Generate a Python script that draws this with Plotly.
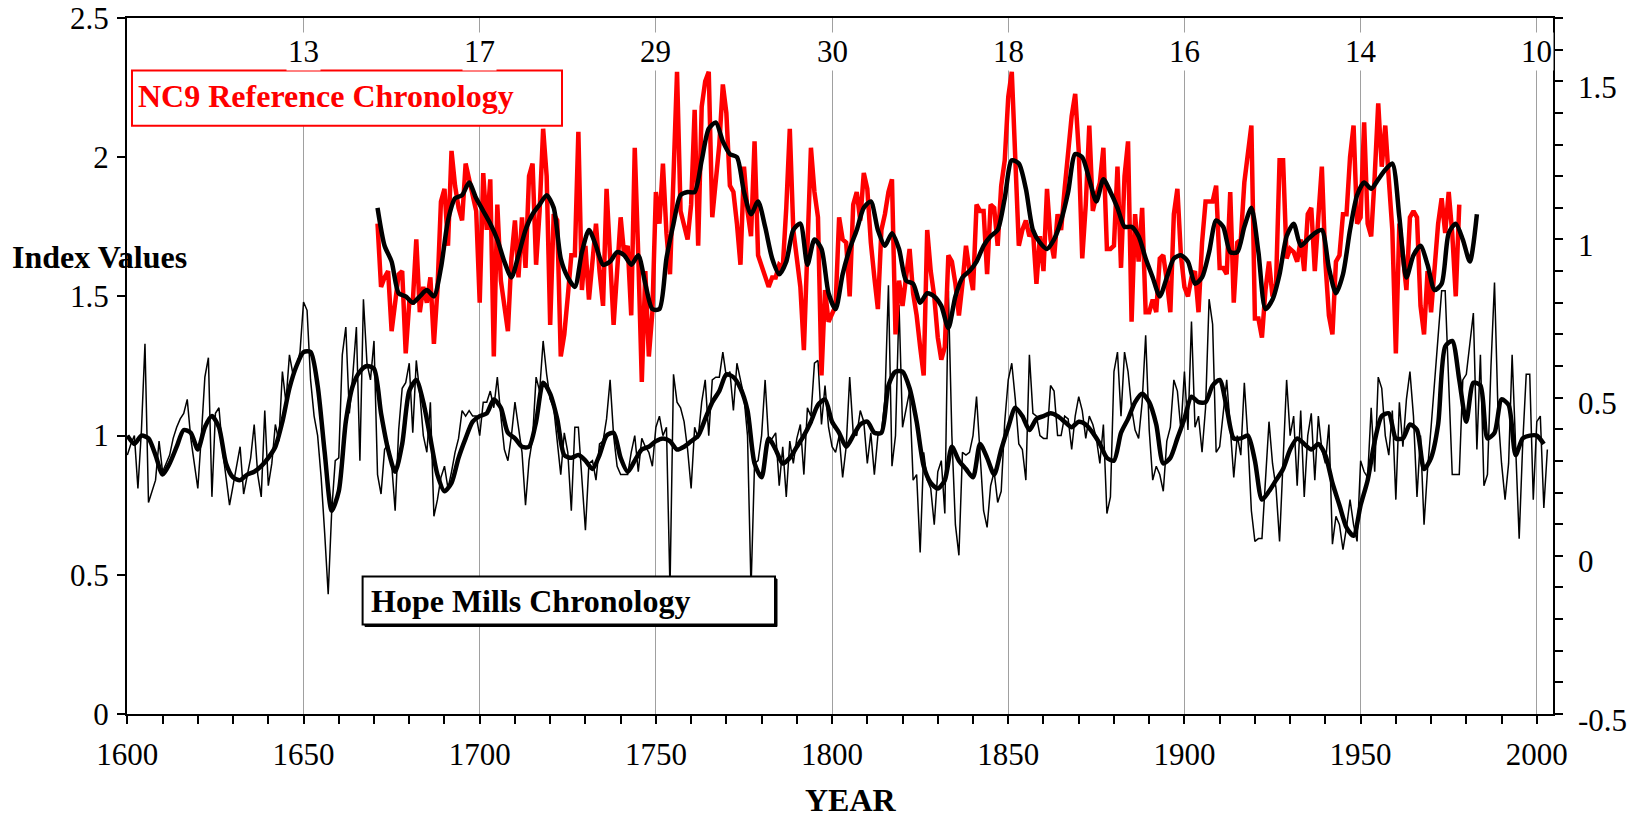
import plotly.graph_objects as go

# ---------------- data ----------------
hope_start = 1600
hope_raw = [
    0.93, 0.97, 1.00, 0.81, 1.02, 1.33, 0.76, 0.80, 0.84, 0.98,
    0.87, 0.90, 0.93, 0.99, 1.03, 1.06, 1.08, 1.13, 0.99, 0.90,
    0.81, 1.00, 1.21, 1.28, 0.78, 1.08, 1.10, 0.95, 0.85, 0.75,
    0.82, 0.89, 0.96, 0.79, 0.85, 0.92, 1.04, 0.86, 0.78, 1.09,
    0.82, 0.90, 1.04, 0.98, 1.23, 1.12, 1.29, 1.22, 1.25, 1.30,
    1.48, 1.45, 1.20, 1.07, 1.00, 0.85, 0.65, 0.43, 0.73, 0.91,
    0.92, 1.29, 1.39, 1.08, 1.22, 1.39, 0.91, 1.49, 1.26, 1.20,
    1.34, 0.86, 0.79, 0.95, 0.97, 0.90, 0.73, 1.02, 1.17, 1.19,
    1.26, 1.01, 1.27, 1.15, 1.00, 0.94, 1.12, 0.71, 0.77, 0.85,
    0.89, 0.81, 0.87, 0.94, 0.99, 1.09, 1.07, 1.09, 1.07, 1.07,
    1.00, 1.12, 1.12, 1.16, 1.10, 1.21, 1.07, 0.95, 0.91, 1.00,
    1.12, 1.02, 0.94, 0.75, 0.91, 0.99, 1.21, 1.16, 1.34, 1.22,
    1.13, 1.10, 0.99, 0.86, 1.01, 0.94, 0.73, 1.03, 1.03, 0.85,
    0.66, 0.90, 0.91, 0.84, 0.97, 0.98, 1.06, 1.20, 1.00, 0.89,
    0.86, 0.86, 0.86, 0.94, 1.00, 0.87, 0.99, 0.96, 0.94, 0.89,
    1.03, 1.07, 1.00, 1.03, 0.45, 1.22, 1.12, 1.10, 1.05, 0.95,
    0.81, 1.03, 0.99, 1.12, 1.20, 1.00, 1.20, 1.21, 1.21, 1.30,
    1.21, 1.23, 1.09, 1.26, 1.20, 1.14, 1.00, 0.45, 0.90, 0.91,
    1.00, 1.20, 0.98, 0.99, 1.01, 0.82, 0.96, 0.78, 0.98, 0.90,
    0.99, 1.04, 0.86, 1.10, 1.07, 1.26, 1.27, 1.04, 1.18, 1.03,
    0.96, 0.94, 1.00, 0.85, 0.96, 1.21, 1.01, 1.00, 1.09, 1.05,
    0.90, 1.01, 0.86, 1.00, 1.01, 1.13, 1.54, 0.89, 1.00, 1.47,
    1.03, 1.09, 1.16, 0.84, 0.86, 0.58, 0.94, 0.84, 0.81, 0.68,
    0.87, 0.91, 0.72, 1.52, 1.00, 0.68, 0.57, 0.94, 0.93, 0.94,
    1.00, 1.14, 0.95, 0.73, 0.67, 0.82, 0.87, 0.76, 0.80, 1.05,
    1.20, 1.26, 1.13, 0.97, 0.95, 0.84, 1.29, 1.08, 1.07, 1.00,
    0.99, 0.99, 1.18, 1.16, 1.00, 1.00, 1.07, 1.06, 0.95, 1.07,
    1.14, 1.09, 0.99, 1.07, 1.04, 0.99, 0.90, 1.04, 0.72, 0.78,
    1.23, 1.30, 1.07, 1.30, 1.23, 1.10, 1.02, 0.99, 1.12, 1.36,
    1.02, 0.84, 0.89, 0.86, 0.80, 0.98, 1.03, 1.20, 1.16, 1.02,
    1.23, 1.02, 1.41, 1.03, 1.07, 0.94, 1.10, 1.49, 1.40, 0.94,
    0.96, 1.07, 1.20, 1.03, 0.85, 1.00, 0.93, 1.19, 0.99, 0.73,
    0.62, 0.63, 0.63, 0.84, 1.05, 0.90, 0.81, 0.62, 0.90, 1.20,
    1.00, 1.07, 0.82, 1.09, 0.78, 1.00, 1.08, 0.84, 1.07, 0.95,
    0.90, 1.04, 0.61, 0.71, 0.68, 0.59, 0.67, 0.77, 0.68, 0.62,
    0.91, 0.87, 0.85, 1.10, 0.87, 1.21, 1.17, 1.00, 0.93, 1.09,
    0.77, 1.12, 0.96, 1.13, 1.23, 1.07, 0.78, 1.00, 0.68, 0.88,
    1.03, 1.20, 1.35, 1.52, 1.52, 1.22, 0.86, 0.86, 0.86, 1.20,
    1.22, 1.33, 1.44, 0.95, 1.29, 0.82, 0.86, 1.25, 1.55, 1.08,
    0.90, 0.77, 0.90, 1.29, 0.93, 0.63, 0.97, 1.22, 1.22, 0.77,
    1.05, 1.07, 0.74, 0.95,
]

hope_smooth_start = 1600
hope_smooth = [
    1.00, 0.97, 1.00, 0.99, 0.93, 0.86, 0.90, 0.96, 1.02, 1.01,
    0.95, 1.03, 1.07, 1.03, 0.90, 0.85, 0.84, 0.86, 0.87, 0.89,
    0.92, 0.96, 1.05, 1.17, 1.25, 1.30, 1.30, 1.18, 0.94, 0.73,
    0.80, 1.05, 1.18, 1.23, 1.25, 1.24, 1.08, 0.95, 0.87, 0.97,
    1.16, 1.20, 1.12, 0.99, 0.86, 0.80, 0.83, 0.92, 0.99, 1.05,
    1.07, 1.08, 1.13, 1.10, 1.01, 0.99, 0.96, 0.96, 1.05, 1.19,
    1.15, 1.06, 0.93, 0.92, 0.93, 0.91, 0.88, 0.93, 1.00, 1.01,
    0.92, 0.87, 0.91, 0.95, 0.96, 0.98, 0.99, 0.98, 0.95, 0.96,
    0.98, 1.00, 1.06, 1.12, 1.16, 1.22, 1.21, 1.17, 1.09, 0.90,
    0.85, 0.99, 0.95, 0.90, 0.92, 0.96, 1.00, 1.05, 1.11, 1.13,
    1.05, 1.01, 0.96, 1.00, 1.04, 1.05, 1.01, 1.01, 1.18, 1.23,
    1.23, 1.17, 1.05, 0.89, 0.83, 0.81, 0.84, 0.96, 0.91, 0.88,
    0.85, 0.97, 0.92, 0.86, 0.95, 1.03, 1.10, 1.07, 1.02, 1.06,
    1.07, 1.08, 1.07, 1.05, 1.03, 1.05, 1.04, 1.01, 0.97, 0.92,
    0.91, 1.01, 1.06, 1.12, 1.15, 1.12, 1.04, 0.90, 0.92, 0.99,
    1.06, 1.14, 1.12, 1.12, 1.18, 1.20, 1.10, 0.99, 0.99, 1.00,
    0.91, 0.77, 0.80, 0.84, 0.88, 0.95, 0.99, 0.97, 0.95, 0.97,
    0.93, 0.83, 0.75, 0.67, 0.64, 0.75, 0.84, 0.98, 1.07, 1.08,
    0.99, 0.99, 1.04, 1.02, 0.88, 0.92, 1.04, 1.32, 1.34, 1.20,
    1.05, 1.19, 1.18, 0.99, 1.01, 1.13, 1.11, 0.93, 0.99, 1.00,
    1.00, 0.97,
]

nc9_start = 1671
nc9_raw = [
    1.05, 0.85, 0.88, 0.90, 0.71, 0.80, 0.89, 0.90, 0.64, 0.80,
    0.80, 1.00, 0.77, 0.85, 0.80, 0.88, 0.67, 0.84, 1.12, 1.16,
    0.98, 1.28, 1.17, 1.10, 1.06, 1.24, 1.19, 1.14, 1.09, 0.80,
    1.21, 1.03, 1.19, 0.63, 1.11, 0.87, 0.80, 0.71, 0.94, 1.06,
    0.88, 1.07, 0.91, 1.20, 1.24, 0.92, 1.09, 1.35, 1.20, 0.73,
    1.08, 1.06, 0.63, 0.70, 0.82, 0.95, 0.95, 1.34, 0.84, 0.98,
    0.81, 0.92, 1.05, 0.90, 0.79, 1.16, 0.93, 0.73, 0.90, 1.07,
    0.95, 0.98, 0.76, 1.29, 0.95, 0.55, 0.90, 0.63, 0.77, 1.15,
    1.05, 1.24, 1.02, 0.89, 1.20, 1.53, 1.09, 1.05, 1.00, 1.11,
    1.41, 0.98, 1.42, 1.50, 1.53, 1.07, 1.19, 1.30, 1.49, 1.40,
    1.17, 1.15, 1.05, 0.92, 1.23, 1.09, 1.01, 1.31, 0.95, 0.92,
    0.89, 0.85, 0.88, 0.88, 0.92, 0.91, 1.10, 1.35, 1.03, 0.95,
    0.85, 0.65, 1.02, 1.29, 1.15, 1.07, 0.57, 0.84, 0.74, 0.77,
    0.79, 1.07, 1.00, 0.99, 0.82, 1.11, 1.15, 1.06, 1.21, 1.16,
    0.99, 0.88, 0.78, 1.03, 1.08, 1.15, 1.19, 0.70, 0.87, 0.79,
    0.88, 0.97, 0.83, 0.76, 0.66, 0.57, 1.03, 0.90, 0.82, 0.69,
    0.62, 0.66, 0.95, 0.93, 0.86, 0.76, 0.86, 0.98, 0.90, 0.84,
    1.11, 1.09, 1.09, 0.89, 1.11, 1.10, 0.98, 1.17, 1.25, 1.45,
    1.53, 1.26, 0.98, 1.03, 1.06, 1.01, 1.03, 0.86, 1.01, 0.90,
    1.16, 1.00, 0.94, 1.08, 1.03, 1.16, 1.28, 1.39, 1.46, 1.28,
    0.94, 1.11, 1.36, 1.09, 1.14, 1.18, 1.29, 0.97, 0.97, 0.98,
    1.23, 0.91, 1.20, 1.31, 0.74, 1.08, 0.93, 1.10, 0.77, 0.77,
    0.81, 0.77, 0.94, 0.95, 0.87, 0.77, 1.08, 1.16, 0.95, 0.85,
    0.82, 0.88, 0.90, 0.77, 0.99, 1.12, 1.12, 1.12, 1.17, 0.91,
    0.91, 0.89, 1.15, 0.80, 0.99, 1.00, 1.18, 1.28, 1.36, 0.75,
    0.75, 0.69, 0.84, 0.93, 0.82, 0.86, 1.25, 1.25, 0.94, 0.97,
    0.96, 0.93, 1.00, 0.90, 1.08, 1.10, 0.90, 1.07, 1.23, 0.93,
    0.76, 0.70, 0.93, 0.95, 1.08, 1.08, 1.26, 1.36, 1.05, 1.07,
    1.37, 1.05, 1.01, 1.20, 1.43, 1.23, 1.36, 1.19, 1.03, 0.64,
    1.05, 0.95, 0.84, 1.07, 1.09, 1.07, 0.79, 0.70, 0.90, 0.77,
    0.93, 1.05, 1.13, 1.02, 1.15, 1.02, 0.82, 1.11,
]

nc9_smooth_start = 1671
nc9_smooth = [
    1.10, 0.98, 0.93, 0.83, 0.82, 0.80, 0.82, 0.84, 0.82, 0.91,
    1.06, 1.13, 1.14, 1.18, 1.13, 1.09, 1.05, 1.00, 0.93, 0.88,
    0.95, 1.03, 1.08, 1.11, 1.14, 1.10, 0.94, 0.88, 0.85, 0.96,
    1.03, 0.98, 0.92, 0.93, 0.96, 0.95, 0.92, 0.95, 0.86, 0.78,
    0.78, 0.94, 1.05, 1.14, 1.15, 1.15, 1.25, 1.35, 1.37, 1.31,
    1.27, 1.26, 1.15, 1.08, 1.12, 1.04, 0.94, 0.89, 0.93, 1.03,
    1.05, 0.92, 1.00, 0.97, 0.83, 0.78, 0.89, 0.97, 1.03, 1.10,
    1.12, 1.03, 0.98, 1.02, 0.97, 0.87, 0.86, 0.80, 0.83, 0.82,
    0.79, 0.72, 0.82, 0.88, 0.90, 0.93, 0.98, 1.01, 1.03, 1.13,
    1.25, 1.24, 1.16, 1.03, 0.99, 0.97, 1.00, 1.06, 1.15, 1.27,
    1.26, 1.19, 1.12, 1.19, 1.15, 1.10, 1.04, 1.04, 1.01, 0.94,
    0.88, 0.82, 0.88, 0.94, 0.95, 0.93, 0.86, 0.88, 0.96, 1.06,
    1.04, 0.96, 0.96, 1.04, 1.10, 0.96, 0.78, 0.81, 0.89, 1.01,
    1.05, 0.98, 1.00, 1.02, 1.03, 0.91, 0.83, 0.89, 1.03, 1.14,
    1.18, 1.16, 1.19, 1.22, 1.24, 1.07, 0.88, 0.95, 0.98, 0.92,
    0.84, 0.86, 1.02, 1.05, 1.00, 0.93, 1.08,
]

depth_years = [1650, 1700, 1750, 1800, 1850, 1900, 1950, 2000]
depth_labels = ["13", "17", "29", "30", "18", "16", "14", "10"]

left_ticks = [0, 0.5, 1, 1.5, 2, 2.5]
left_ticktext = ["0", "0.5", "1", "1.5", "2", "2.5"]
right_ticks = [-0.5, 0, 0.5, 1, 1.5]
right_ticktext = ["-0.5", "0", "0.5", "1", "1.5"]

# ---------------- figure ----------------
FONT = "Liberation Serif, Times New Roman, serif"
TICK_SIZE = 31
LABEL_SIZE = 32
W, H = 1629, 817
ML, MR, MT, MB = 127, 76, 18, 103
PW, PH = W - ML - MR, H - MT - MB


def px_x(x):
    return (x - ML) / PW


def px_y(y):
    return (H - MB - y) / PH


hope_years = list(range(hope_start, hope_start + len(hope_raw)))
hope_s_years = list(range(hope_smooth_start, hope_smooth_start + 2 * len(hope_smooth), 2))
nc9_years = list(range(nc9_start, nc9_start + len(nc9_raw)))
nc9_s_years = list(range(nc9_smooth_start, nc9_smooth_start + 2 * len(nc9_smooth), 2))

fig = go.Figure()
fig.add_trace(go.Scatter(x=hope_years, y=hope_raw, mode="lines",
                         line=dict(color="black", width=1.5), yaxis="y",
                         showlegend=False, name="Hope Mills"))
fig.add_trace(go.Scatter(x=hope_s_years, y=hope_smooth, mode="lines",
                         line=dict(color="black", width=4.5, shape="spline", smoothing=0.7),
                         yaxis="y", showlegend=False, name="Hope Mills smooth"))
fig.add_trace(go.Scatter(x=nc9_years, y=nc9_raw, mode="lines",
                         line=dict(color="#ff0000", width=4.5), yaxis="y2",
                         showlegend=False, name="NC9"))
fig.add_trace(go.Scatter(x=nc9_s_years, y=nc9_smooth, mode="lines",
                         line=dict(color="black", width=4.5, shape="spline", smoothing=0.7),
                         yaxis="y2", showlegend=False, name="NC9 smooth"))

annotations = []
for yr, lab in zip(depth_years, depth_labels):
    annotations.append(dict(x=yr, y=px_y(52), xref="x", yref="paper", text=lab,
                            showarrow=False, xanchor="center", yanchor="middle",
                            bgcolor="white", font=dict(family=FONT, size=TICK_SIZE, color="black")))

# right-axis tick labels placed explicitly
for v, t in zip(right_ticks, right_ticktext):
    annotations.append(dict(x=px_x(1576), y=v, xref="paper", yref="y2", text=t,
                            showarrow=False, xanchor="left", yanchor="middle", yshift=-6,
                            font=dict(family=FONT, size=TICK_SIZE, color="black")))

annotations += [
    dict(x=px_x(136), y=px_y(96), xref="paper", yref="paper",
         text="<b>NC9 Reference Chronology</b>", showarrow=False,
         xanchor="left", yanchor="middle",
         font=dict(family=FONT, size=LABEL_SIZE, color="#ff0000")),
    dict(x=px_x(369), y=px_y(601), xref="paper", yref="paper",
         text="<b>Hope Mills Chronology</b>", showarrow=False,
         xanchor="left", yanchor="middle",
         font=dict(family=FONT, size=LABEL_SIZE, color="black")),
    dict(x=px_x(10), y=px_y(257), xref="paper", yref="paper",
         text="<b>Index Values</b>", showarrow=False,
         xanchor="left", yanchor="middle",
         font=dict(family=FONT, size=LABEL_SIZE, color="black")),
    dict(x=px_x(851), y=px_y(800), xref="paper", yref="paper",
         text="<b>YEAR</b>", showarrow=False,
         xanchor="center", yanchor="middle",
         font=dict(family=FONT, size=LABEL_SIZE, color="black")),
]

shapes = [
    dict(type="rect", xref="paper", yref="paper", layer="above",
         x0=px_x(132), x1=px_x(562), y0=px_y(125.7), y1=px_y(70.6),
         fillcolor="white", line=dict(color="#ff0000", width=2)),
    dict(type="rect", xref="paper", yref="paper", layer="above",
         x0=px_x(365), x1=px_x(777), y0=px_y(626.5), y1=px_y(579),
         fillcolor="black", line=dict(color="black", width=1)),
    dict(type="rect", xref="paper", yref="paper", layer="above",
         x0=px_x(362.6), x1=px_x(775), y0=px_y(624.4), y1=px_y(576.6),
         fillcolor="white", line=dict(color="black", width=2)),
]

fig.update_layout(
    template="none",
    width=W, height=H,
    margin=dict(l=ML, r=MR, t=MT, b=MB, pad=0, autoexpand=False),
    paper_bgcolor="white", plot_bgcolor="white",
    font=dict(family=FONT, size=TICK_SIZE, color="black"),
    showlegend=False,
    xaxis=dict(range=[1599.9, 2004.6],
               tickvals=[1600, 1650, 1700, 1750, 1800, 1850, 1900, 1950, 2000],
               ticks="outside", ticklen=8, tickwidth=1.5, tickcolor="black",
               showline=True, linecolor="black", linewidth=2, mirror=True,
               showgrid=True, gridcolor="#a0a0a0", gridwidth=1, zeroline=False,
               automargin=False, ticklabelstandoff=4,
               minor=dict(dtick=10, tick0=1600, ticks="outside", ticklen=8, tickwidth=1.5,
                          tickcolor="black", showgrid=False),
               tickfont=dict(family=FONT, size=TICK_SIZE)),
    yaxis=dict(range=[0, 2.5], tickvals=left_ticks, ticktext=left_ticktext,
               ticks="outside", ticklen=8, tickwidth=1.5, tickcolor="black",
               showline=True, linecolor="black", linewidth=2,
               showgrid=False, zeroline=False, automargin=False, ticklabelstandoff=2,
               tickfont=dict(family=FONT, size=TICK_SIZE)),
    yaxis2=dict(range=[-0.5, 1.7], overlaying="y", side="right",
                tickvals=right_ticks, showticklabels=False,
                ticks="outside", ticklen=8, tickwidth=1.5, tickcolor="black",
                showline=True, linecolor="black", linewidth=2,
                showgrid=False, zeroline=False, automargin=False,
                minor=dict(dtick=0.1, tick0=-0.5, ticks="outside", ticklen=8, tickwidth=1.5,
                           tickcolor="black", showgrid=False)),
    annotations=annotations,
    shapes=shapes,
)

fig.write_html(
    "out.html",
    config={"displayModeBar": False},
    post_script="document.body.style.margin='0';document.body.style.padding='0';"
                "document.body.style.overflow='hidden';",
)
